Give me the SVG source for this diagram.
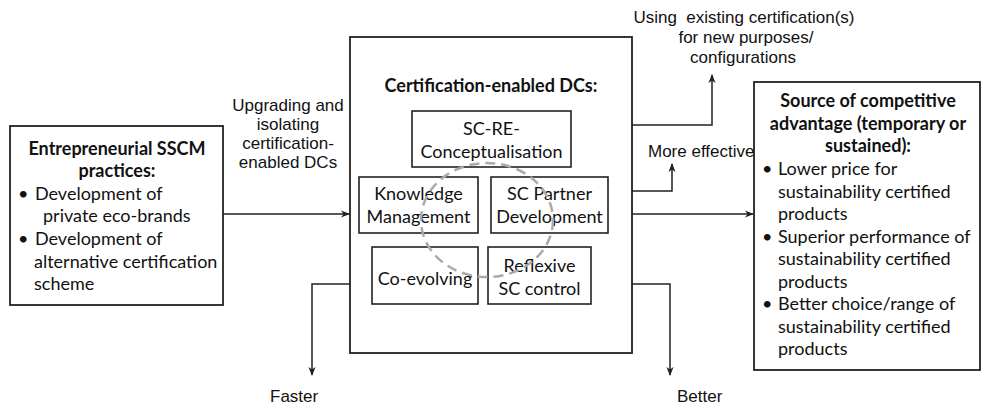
<svg xmlns="http://www.w3.org/2000/svg" width="982" height="407" viewBox="0 0 982 407">
<defs>
<style>
.box{fill:#fff;stroke:#222;stroke-width:1.8}
.ibox{fill:#fff;stroke:#222;stroke-width:1.6}
.cal{font-family:Lato,"Open Sans","Liberation Sans",sans-serif;font-size:18px;fill:#111}
.calb{font-family:Lato,"Open Sans","Liberation Sans",sans-serif;font-size:18px;font-weight:bold;fill:#111}
.ar{font-family:"Liberation Sans",Arial,sans-serif;font-size:17px;fill:#111}
.mid{text-anchor:middle}
.conn{fill:none;stroke:#222;stroke-width:1.5}
.dash{fill:none;stroke:#aaa;stroke-width:2.5;stroke-dasharray:10 6}
</style>
<marker id="arr" viewBox="0 0 10 10" refX="9" refY="5" markerWidth="9" markerHeight="9" markerUnits="userSpaceOnUse" orient="auto">
<path d="M0,1 L10,5 L0,9 L3,5 Z" fill="#222"/>
</marker>
</defs>
<rect width="982" height="407" fill="#fff"/>

<g id="connectors">
<path class="conn" d="M223,214 H349" marker-end="url(#arr)"/>
<path class="conn" d="M571,125 H712 V75" marker-end="url(#arr)"/>
<path class="conn" d="M608,191 H672 V164" marker-end="url(#arr)"/>
<path class="conn" d="M632,214 H753" marker-end="url(#arr)"/>
<path class="conn" d="M372,284 H312 V375" marker-end="url(#arr)"/>
<path class="conn" d="M591,284 H670 V375" marker-end="url(#arr)"/>
</g>

<g id="entrepreneurial">
<rect class="box" x="10" y="126" width="213" height="179"/>
<text class="calb mid" x="117" y="155">Entrepreneurial SSCM</text>
<text class="calb mid" x="117" y="177">practices:</text>
<text class="cal" x="18" y="200">•</text>
<text class="cal" x="35" y="200">Development of</text>
<text class="cal" x="43" y="222">private eco-brands</text>
<text class="cal" x="18" y="245">•</text>
<text class="cal" x="35" y="245">Development of</text>
<text class="cal" x="34" y="268">alternative certification</text>
<text class="cal" x="34" y="290">scheme</text>
</g>

<g id="dcs">
<rect class="box" x="350" y="37" width="282" height="316"/>
<text class="calb mid" x="491" y="92">Certification-enabled DCs:</text>
</g>

<g id="scre">
<rect class="ibox" x="412" y="111" width="159" height="56"/>
<text class="cal mid" x="491.5" y="135">SC-RE-</text>
<text class="cal mid" x="491.5" y="158">Conceptualisation</text>
</g>

<g id="knowledge">
<rect class="ibox" x="359" y="177" width="119" height="56"/>
<text class="cal mid" x="418.5" y="200">Knowledge</text>
<text class="cal mid" x="418.5" y="223">Management</text>
</g>

<g id="partner">
<rect class="ibox" x="491" y="177" width="117" height="56"/>
<text class="cal mid" x="549.5" y="200">SC Partner</text>
<text class="cal mid" x="549.5" y="223">Development</text>
</g>

<g id="coevolving">
<rect class="ibox" x="372" y="247" width="106" height="57"/>
<text class="cal mid" x="425" y="285">Co-evolving</text>
</g>

<g id="reflexive">
<rect class="ibox" x="488" y="247" width="103" height="57"/>
<text class="cal mid" x="539.5" y="272">Reflexive</text>
<text class="cal mid" x="539.5" y="295">SC control</text>
</g>

<g id="cycle">
<ellipse class="dash" cx="487" cy="220" rx="66" ry="57"/>
</g>

<g id="advantage">
<rect class="box" x="754" y="82" width="226" height="288"/>
<text class="calb mid" x="868" y="107">Source of competitive</text>
<text class="calb mid" x="868" y="130">advantage (temporary or</text>
<text class="calb mid" x="868" y="152">sustained):</text>
<text class="cal" x="762" y="175">•</text>
<text class="cal" x="778" y="175">Lower price for</text>
<text class="cal" x="778" y="197.5">sustainability certified</text>
<text class="cal" x="778" y="220">products</text>
<text class="cal" x="762" y="242.5">•</text>
<text class="cal" x="778" y="242.5">Superior performance of</text>
<text class="cal" x="778" y="265">sustainability certified</text>
<text class="cal" x="778" y="287.5">products</text>
<text class="cal" x="762" y="310">•</text>
<text class="cal" x="778" y="310">Better choice/range of</text>
<text class="cal" x="778" y="332.5">sustainability certified</text>
<text class="cal" x="778" y="355">products</text>
</g>

<g id="labels">
<text class="ar mid" x="288" y="111">Upgrading and</text>
<text class="ar mid" x="288" y="130">isolating</text>
<text class="ar mid" x="288" y="149">certification-</text>
<text class="ar mid" x="288" y="168">enabled DCs</text>
<text class="ar mid" x="744" y="23" xml:space="preserve">Using  existing certification(s)</text>
<text class="ar mid" x="746" y="43">for new purposes/</text>
<text class="ar mid" x="743" y="63">configurations</text>
<text class="ar" x="648" y="157">More effective</text>
<text class="ar" x="270" y="402">Faster</text>
<text class="ar" x="677" y="402">Better</text>
</g>
</svg>
